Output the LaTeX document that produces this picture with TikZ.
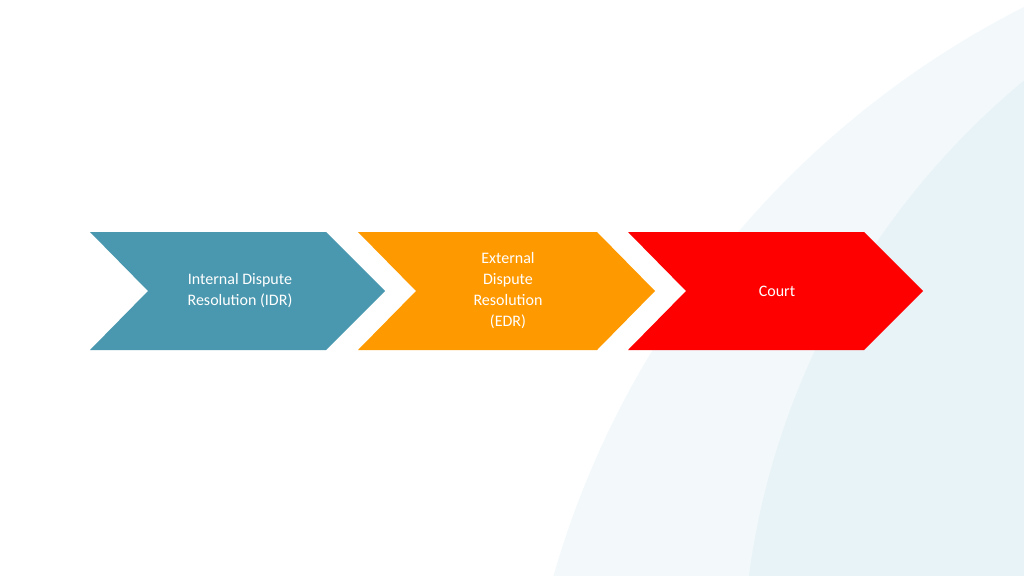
\documentclass[tikz,border=0pt]{standalone}
\usepackage{fontspec}
\setmainfont{Carlito}
\usepackage{tikz}
\definecolor{idrblue}{HTML}{4A98AF}
\definecolor{edrorange}{HTML}{FF9900}
\definecolor{courtred}{HTML}{FF0000}
\definecolor{bgouter}{HTML}{F3F8FB}
\definecolor{bginner}{HTML}{E8F3F8}
\tikzstyle{label}=[text=white,align=center,font=\fontsize{16}{21}\selectfont]
\begin{document}
\begin{tikzpicture}[x=1pt,y=-1pt]
	\useasboundingbox (0,0) rectangle (1024,575);
	\begin{scope}
		\clip (0,0) rectangle (1024,575);
		\fill [bgouter] (1440,830) circle (922);
		\fill [bginner] (1520,680) circle (778);
	\end{scope}
	% chevrons
	\fill [idrblue] (90,232) -- (326,232) -- (385,291) -- (326,350) -- (90,350) -- (148,291) -- cycle;
	\fill [edrorange] (358,232) -- (597,232) -- (655,291) -- (597,350) -- (358,350) -- (416,291) -- cycle;
	\fill [courtred] (628,232) -- (864,232) -- (923,291) -- (864,350) -- (628,350) -- (686,291) -- cycle;
	\node [style=label] (idr) at (240,291) {Internal Dispute\\Resolution (IDR)};
	\node [style=label] (edr) at (508,291) {External\\Dispute\\Resolution\\(EDR)};
	\node [style=label] (court) at (777,291) {Court};
\end{tikzpicture}
\end{document}
